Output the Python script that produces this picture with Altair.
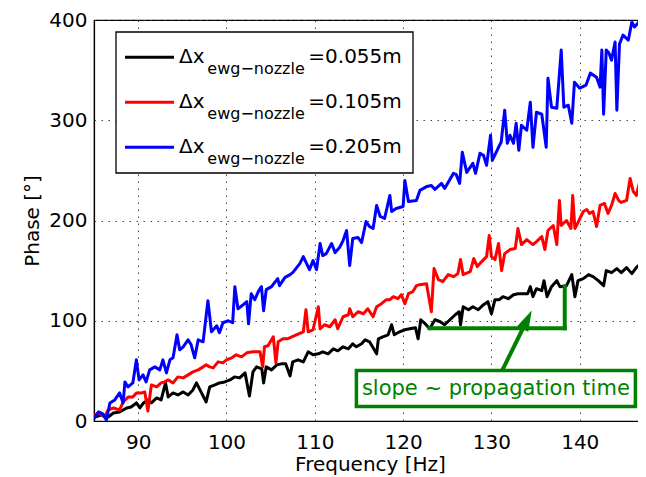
import altair as alt
import pandas as pd

# ---------------- data ----------------
black_f = [85.0, 85.1, 85.8, 86.6, 87.2, 87.9, 88.7, 89.2, 89.8, 90.2, 90.6, 91.1, 91.5, 92.1, 92.6, 93.1, 93.4,
           93.95, 94.5, 95.1, 95.65, 96.2, 96.6, 97.0, 97.7, 98.1, 98.7, 99.2, 99.8, 100.4, 100.9, 101.5, 102.1,
           102.6, 103.0, 103.4, 104.0, 104.2, 104.5, 105.1, 105.7, 106.2, 106.7, 107.2, 107.5, 108.1, 108.7,
           109.25, 109.8, 110.4, 110.9, 111.5, 112.1, 112.6, 113.2, 113.8, 114.3, 114.7, 115.3, 115.7, 116.2,
           117.0, 117.2, 117.7, 118.3, 118.7, 119.0, 119.6, 120.2, 120.75, 121.4, 121.7, 122.0, 122.5, 123.0,
           123.6, 124.2, 124.7, 125.3, 125.9, 126.35, 126.5, 126.8, 127.4, 127.9, 128.5, 129.1, 129.6, 130.0,
           130.4, 130.9, 131.3, 131.9, 132.5, 133.0, 133.6, 134.1, 134.4, 134.7, 135.1, 135.7, 135.95, 136.3,
           136.8, 137.4, 137.75, 138.5, 139.1, 139.45, 139.8, 140.4, 141.0, 141.5, 142.1, 142.7, 143.0, 143.6,
           144.2, 144.7, 145.3, 145.9, 146.4, 147.0, 147.5]
black_v = [2, 4, 6, 4, 8, 9, 13, 14, 18, 13, 18, 21, 18, 23, 21, 38, 24,
           28, 26, 29, 26, 31, 38, 31, 19, 34, 36, 38, 39, 41, 44, 43, 48,
           25, 49, 54, 52, 38, 54, 51, 56, 57, 57, 45, 59, 61, 59,
           69, 66, 67, 69, 67, 72, 70, 74, 72, 77, 74, 77, 81, 79,
           67, 82, 84, 86, 96, 86, 89, 91, 92, 93, 82, 101, 97, 92,
           101, 99, 96, 101, 106, 109, 96, 114, 111, 114, 111, 116, 119, 107,
           121, 121, 124, 122, 126, 127, 127, 127, 134, 124, 132, 130, 140, 124,
           134, 140, 134, 135, 146, 124, 140, 142, 146, 144, 140, 135, 150, 148,
           152, 148, 153, 147, 153, 158, 153]

red_f = [85.0, 85.1, 85.65, 86.2, 86.6, 87.2, 87.9, 88.3, 88.9, 89.4, 89.8, 90.4, 90.75, 91.1, 91.5, 92.1, 92.6,
         93.0, 93.4, 93.95, 94.5, 95.1, 95.65, 96.2, 96.8, 97.35, 97.7, 98.1, 98.5, 99.05, 99.6, 100.0, 100.6,
         101.1, 101.7, 102.3, 103.0, 103.8, 104.1, 104.3, 104.7, 105.3, 105.6, 105.85, 106.4, 106.9, 107.4,
         107.9, 108.7, 109.0, 109.25, 109.8, 110.4, 110.6, 111.1, 111.7, 112.3, 112.6, 113.2, 113.8, 113.96,
         114.3, 114.9, 115.5, 116.0, 116.6, 117.0, 117.55, 118.1, 118.5, 118.9, 119.4, 119.8, 120.2, 120.6,
         121.1, 121.5, 121.9, 122.65, 123.2, 123.5, 124.0, 124.5, 125.1, 125.7, 126.2, 126.5, 126.8, 127.6,
         128.0, 128.4, 128.9, 129.45, 129.75, 130.0, 130.4, 130.8, 131.15, 131.5, 132.1, 132.7, 133.0, 133.4,
         134.0, 134.7, 135.1, 135.7, 136.05, 136.4, 137.0, 137.4, 137.7, 137.9, 138.5, 139.0, 139.2, 139.45,
         139.8, 140.4, 140.8, 141.1, 141.5, 141.9, 142.3, 142.8, 143.2, 143.6, 144.0, 144.4, 144.7, 145.3,
         145.7, 146.05, 146.4, 146.8, 147.1, 147.3, 147.5]
red_v = [3, 6, 8, 4, 11, 13, 11, 19, 24, 24, 28, 28, 29, 10, 36, 34, 38,
         39, 41, 38, 44, 43, 46, 49, 51, 54, 56, 54, 53, 59, 58, 61, 63,
         66, 64, 68, 69, 69, 54, 74, 75, 84, 58, 79, 82, 82, 84,
         86, 89, 111, 89, 91, 114, 92, 96, 94, 101, 92, 104, 106, 112,
         104, 109, 107, 112, 104, 114, 117, 121, 121, 124, 122, 126, 117, 127,
         129, 135, 136, 137, 109, 152, 141, 139, 146, 144, 147, 161, 146, 149,
         162, 154, 159, 164, 185, 164, 161, 177, 150, 167, 171, 172, 192, 176,
         181, 176, 179, 184, 171, 190, 195, 176, 220, 195, 200, 192, 225, 192,
         198, 209, 211, 207, 209, 194, 215, 217, 207, 215, 227, 220, 218, 220,
         242, 229, 225, 239, 234, 204, 204]

blue_f = [85.0, 85.1, 85.5, 86.0, 86.4, 86.8, 87.35, 87.9, 88.3, 88.5, 88.85, 89.4, 89.8, 90.1, 90.55, 90.9, 91.3,
          91.9, 92.45, 92.8, 93.2, 93.6, 93.95, 94.4, 94.7, 95.1, 95.65, 96.0, 96.4, 96.8, 97.35, 97.9, 98.3,
          98.9, 99.2, 99.6, 100.2, 100.7, 100.95, 101.3, 101.9, 102.3, 102.5, 102.8, 103.2, 103.6, 103.96,
          104.2, 104.5, 105.1, 105.8, 106.0, 106.6, 107.2, 107.5, 108.3, 108.7, 109.4, 109.8, 110.2, 110.6,
          110.9, 111.3, 111.9, 112.3, 112.8, 113.2, 113.6, 113.95, 114.3, 114.9, 115.3, 115.8, 116.2, 116.6,
          117.0, 117.4, 117.9, 118.5, 118.7, 119.2, 120.0, 120.2, 120.6, 121.5, 121.9, 122.7, 123.2, 123.6,
          124.35, 124.7, 125.7, 126.0, 126.4, 126.7, 127.2, 127.9, 128.2, 128.7, 129.1, 129.45, 129.9, 130.1,
          130.8, 131.1, 131.5, 131.8, 132.1, 132.5, 132.8, 133.1, 133.4, 134.0, 134.4, 134.7, 135.1, 135.7,
          136.2, 136.4, 136.8, 137.4, 137.9, 138.2, 138.7, 139.1, 139.4, 140.0, 140.7, 141.2, 141.9, 142.3,
          142.5, 142.7, 143.0, 143.3, 143.6, 144.0, 144.2, 144.5, 144.9, 145.5, 145.9, 146.2, 146.6, 147.0,
          147.2, 147.5]
blue_v = [3, 4, 9, 7, 1, 18, 21, 28, 18, 39, 34, 38, 61, 41, 46, 39, 51,
          54, 51, 61, 48, 61, 63, 86, 71, 74, 81, 76, 63, 81, 79, 120, 89,
          95, 88, 98, 100, 98, 134, 112, 116, 119, 97, 127, 121, 129, 134,
          110, 131, 134, 142, 135, 143, 146, 148, 157, 164, 151, 160, 151, 177,
          165, 167, 177, 168, 173, 180, 190, 155, 182, 183, 178, 199, 194, 192,
          215, 204, 202, 225, 209, 212, 214, 240, 219, 220, 230, 234, 235, 231,
          237, 232, 247, 246, 237, 268, 248, 257, 247, 267, 265, 255, 285, 260,
          273, 278, 310, 277, 285, 277, 297, 270, 295, 290, 318, 273, 308, 306,
          273, 342, 313, 312, 370, 313, 315, 297, 338, 332, 335, 347, 343, 333,
          370, 306, 370, 367, 360, 378, 310, 376, 385, 380, 398, 393, 397, 402,
          368, 372]

legend_values = ["0.055", "0.105", "0.205"]
series_colors = ["#000000", "#ff0000", "#0000ff"]
x_ticks = [90, 100, 110, 120, 130, 140]
y_ticks = [0, 100, 200, 300, 400]

# annotation (data coordinates)
slope_f = [123.0, 138.3, 138.3]
slope_v = [92.5, 92.5, 134.0]
arrow_tail = [131.25, 50.9]
arrow_head = [134.05, 101.0]
box_f = [114.71, 146.3]
box_v = [14.5, 50.4]
note_text = "slope ~ propagation time"
note_pos = [130.5, 32.4]

GREEN = "#008000"
FONT = "DejaVu Sans"

# ---------------- chart ----------------
xscale = alt.Scale(domain=[85, 147.5], nice=False, zero=False)
yscale = alt.Scale(domain=[0, 400], nice=False, zero=False)

X = alt.X("f:Q", scale=xscale, axis=alt.Axis(
    values=x_ticks, title="Frequency [Hz]", grid=True, tickSize=0,
    labelPadding=11, titlePadding=2, format="d"))
Y = alt.Y("v:Q", scale=yscale, axis=alt.Axis(
    values=y_ticks, title="Phase [°]", grid=True, tickSize=0,
    labelPadding=7, titlePadding=6, format="d"))


def line_layer(fs, vs, color):
    d = pd.DataFrame({"f": fs, "v": vs})
    return alt.Chart(d).mark_line(color=color, strokeWidth=3, clip=True,
                                  strokeJoin="round").encode(x=X, y=Y)


lines = [line_layer(black_f, black_v, series_colors[0]),
         line_layer(red_f, red_v, series_colors[1]),
         line_layer(blue_f, blue_v, series_colors[2])]

slope_df = pd.DataFrame({"f": [slope_f[0], slope_f[1]], "v": [slope_v[0], slope_v[1]],
                         "f2": [slope_f[1], slope_f[2]], "v2": [slope_v[1], slope_v[2]]})
slope = alt.Chart(slope_df).mark_rule(color=GREEN, strokeWidth=4, strokeCap="square").encode(
    x=X, y=Y, x2="f2:Q", y2="v2:Q")

shaft_df = pd.DataFrame({"f": [arrow_tail[0]], "v": [arrow_tail[1]],
                         "f2": [arrow_head[0]], "v2": [arrow_head[1]]})
shaft = alt.Chart(shaft_df).mark_rule(color=GREEN, strokeWidth=4).encode(
    x=X, y=Y, x2="f2:Q", y2="v2:Q")

head_df = pd.DataFrame({"f": [arrow_head[0]], "v": [arrow_head[1]]})
head = alt.Chart(head_df).mark_point(
    shape="M0,-1L0.6,1L-0.6,1Z", size=420, angle=26.2, filled=True,
    color=GREEN, opacity=1, strokeWidth=0).encode(x=X, y=Y)

box_df = pd.DataFrame({"f": [box_f[0]], "f2": [box_f[1]], "v": [box_v[0]], "v2": [box_v[1]]})
box = alt.Chart(box_df).mark_rect(fill="white", stroke=GREEN, strokeWidth=3.5).encode(
    x=X, x2="f2:Q", y=Y, y2="v2:Q")

note_df = pd.DataFrame({"f": [note_pos[0]], "v": [note_pos[1]], "t": [note_text]})
note = alt.Chart(note_df).mark_text(font=FONT, fontSize=21, color=GREEN, align="center",
                                    baseline="middle").encode(x=X, y=Y, text="t:N")

# legend drawn in plot-pixel space
one = pd.DataFrame({"a": [0]})
legend_layers = [alt.Chart(one).mark_rect(fill="white", stroke="black", strokeWidth=1.3).encode(
    x=alt.value(22), x2=alt.value(319), y=alt.value(12), y2=alt.value(153))]
row_y = [37.3, 82.3, 127.3]
for i, val in enumerate(legend_values):
    yl = row_y[i]
    legend_layers.append(alt.Chart(one).mark_rule(color=series_colors[i], strokeWidth=3).encode(
        x=alt.value(31), x2=alt.value(80), y=alt.value(yl)))
    legend_layers.append(alt.Chart(one).mark_text(font=FONT, fontSize=20, align="left",
                                                  baseline="alphabetic", color="black").encode(
        x=alt.value(85), y=alt.value(yl + 6), text=alt.value("Δx")))
    legend_layers.append(alt.Chart(one).mark_text(font=FONT, fontSize=16, align="left",
                                                  baseline="alphabetic", color="black").encode(
        x=alt.value(113.3), y=alt.value(yl + 16.7), text=alt.value("ewg−nozzle")))
    legend_layers.append(alt.Chart(one).mark_text(font=FONT, fontSize=20, align="left",
                                                  baseline="alphabetic", color="black").encode(
        x=alt.value(214.3), y=alt.value(yl + 6), text=alt.value("=" + val + "m")))

chart = alt.layer(*lines, slope, shaft, head, box, note, *legend_layers).properties(
    width=552, height=401,
    padding={"left": 86, "top": 12, "right": -8, "bottom": 56},
    autosize=alt.AutoSizeParams(type="none"),
).configure_view(
    stroke="black", strokeWidth=1.2
).configure_axis(
    labelFont=FONT, labelFontSize=20, labelColor="black",
    titleFont=FONT, titleFontSize=20, titleFontWeight="normal", titleColor="black",
    domainColor="black", domainWidth=1.2,
    gridColor="#333333", gridDash=[1.5, 5.5], gridWidth=1, gridOpacity=0.9,
)

chart.save("out.html", embed_options={"renderer": "svg", "actions": False})
